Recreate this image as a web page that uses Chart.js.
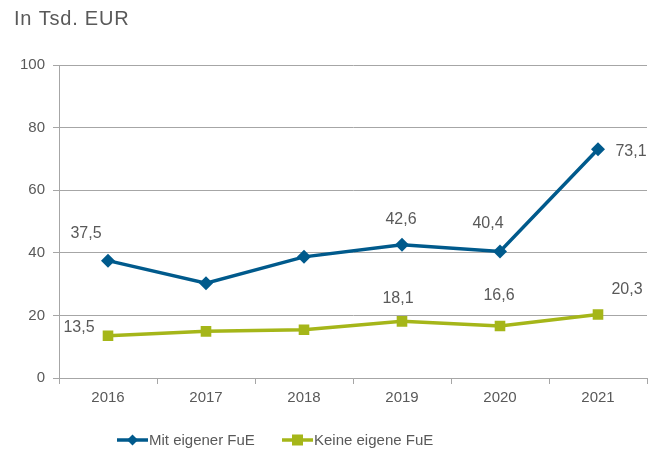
<!DOCTYPE html>
<html>
<head>
<meta charset="utf-8">
<script src="https://cdn.jsdelivr.net/npm/chart.js@4"></script>
<style>
html,body{margin:0;padding:0;background:#fff;}
#wrap{position:relative;width:659px;height:459px;}
</style>
</head>
<body>
<div id="wrap"><canvas id="c" width="659" height="459"></canvas></div>
<script>
const categories = ['2016','2017','2018','2019','2020','2021'];
const mitFuE = [37.5, 30.3, 38.7, 42.6, 40.4, 73.1];
const keineFuE = [13.5, 14.9, 15.4, 18.1, 16.6, 20.3];
const mitLabels = ['37,5', null, null, '42,6', '40,4', '73,1'];
const keineLabels = ['13,5', null, null, '18,1', '16,6', '20,3'];
const yTicks = [0, 20, 40, 60, 80, 100];
const seriesNames = ['Mit eigener FuE', 'Keine eigene FuE'];

const BLUE = '#005a8c';
const GREEN = '#a5b619';
const TEXT = '#595959';
const GRID = '#a6a6a6';
const FONT = '"Liberation Sans", Arial, sans-serif';

const labelOffsets = [
  [[-22,-27], null, null, [-1,-25], [-12,-28], [33,2]],
  [[-29,-8], null, null, [-4,-23], [-1,-30], [29,-25]]
];

const valueLabels = {
  id: 'valueLabels',
  afterDatasetsDraw(chart) {
    const ctx = chart.ctx;
    ctx.save();
    ctx.font = '16px ' + FONT;
    ctx.fillStyle = TEXT;
    ctx.textAlign = 'center';
    ctx.textBaseline = 'middle';
    const lbls = [mitLabels, keineLabels];
    chart.data.datasets.forEach((ds, i) => {
      const meta = chart.getDatasetMeta(i);
      meta.data.forEach((pt, j) => {
        const t = lbls[i][j];
        const off = labelOffsets[i][j];
        if (!t || !off) return;
        ctx.fillText(t, pt.x + off[0], pt.y + off[1]);
      });
    });
    ctx.restore();
  }
};

const customLegend = {
  id: 'customLegend',
  afterDraw(chart) {
    const ctx = chart.ctx;
    ctx.save();
    const y = 440;
    const items = [
      {x: 117, color: BLUE, style: 'diamond', text: seriesNames[0]},
      {x: 282, color: GREEN, style: 'square', text: seriesNames[1]}
    ];
    items.forEach(it => {
      ctx.strokeStyle = it.color;
      ctx.lineWidth = 3.5;
      ctx.beginPath();
      ctx.moveTo(it.x, y);
      ctx.lineTo(it.x + 31, y);
      ctx.stroke();
      ctx.fillStyle = it.color;
      const cx = it.x + 15.5;
      if (it.style === 'diamond') {
        ctx.beginPath();
        ctx.moveTo(cx, y - 5.5);
        ctx.lineTo(cx + 5.5, y);
        ctx.lineTo(cx, y + 5.5);
        ctx.lineTo(cx - 5.5, y);
        ctx.closePath();
        ctx.fill();
      } else {
        ctx.fillRect(cx - 5.5, y - 5.5, 11, 11);
      }
      ctx.fillStyle = TEXT;
      ctx.font = '15px ' + FONT;
      ctx.textAlign = 'left';
      ctx.textBaseline = 'middle';
      ctx.fillText(it.text, it.x + 32, y + 1);
    });
    ctx.font = '20px ' + FONT;
    try { ctx.letterSpacing = '0.8px'; } catch (e) {}
    ctx.fillStyle = TEXT;
    ctx.textAlign = 'left';
    ctx.textBaseline = 'middle';
    ctx.fillText('In Tsd. EUR', 14, 19);
    ctx.restore();
  }
};

new Chart(document.getElementById('c'), {
  type: 'line',
  data: {
    labels: categories,
    datasets: [
      {
        label: seriesNames[0],
        data: mitFuE,
        borderColor: BLUE,
        backgroundColor: BLUE,
        borderWidth: 3.5,
        pointStyle: 'rectRot',
        pointRadius: 7,
        pointHoverRadius: 7,
        pointBorderWidth: 0,
        tension: 0
      },
      {
        label: seriesNames[1],
        data: keineFuE,
        borderColor: GREEN,
        backgroundColor: GREEN,
        borderWidth: 3.5,
        pointStyle: 'rect',
        pointRadius: 7.5,
        pointHoverRadius: 7.5,
        pointBorderWidth: 0,
        tension: 0
      }
    ]
  },
  options: {
    responsive: false,
    animation: false,
    events: [],
    layout: { padding: { top: 65, right: 12, left: 0, bottom: 0 } },
    plugins: { legend: { display: false }, tooltip: { enabled: false }, title: { display: false } },
    scales: {
      x: {
        offset: true,
        grid: { offset: true, drawOnChartArea: false, drawTicks: true, tickLength: 6, color: GRID },
        border: { color: GRID, width: 1 },
        ticks: { color: TEXT, font: { family: FONT, size: 15 }, padding: 5 },
        afterFit(s) { s.height = 81; }
      },
      y: {
        min: 0,
        max: 100,
        afterBuildTicks(s) { s.ticks = yTicks.map(v => ({ value: v })); },
        grid: { color: GRID, tickLength: 6, lineWidth: 1 },
        border: { color: GRID, width: 1 },
        ticks: { color: TEXT, font: { family: FONT, size: 15 }, padding: 8 },
        afterFit(s) { s.width = 59; }
      }
    }
  },
  plugins: [valueLabels, customLegend]
});
</script>
</body>
</html>
